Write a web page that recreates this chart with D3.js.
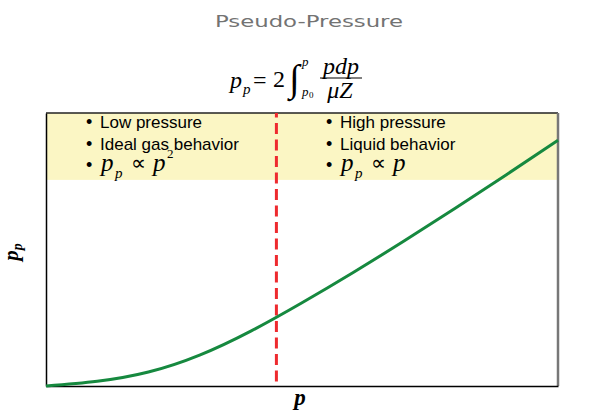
<!DOCTYPE html>
<html>
<head>
<meta charset="utf-8">
<script src="https://cdn.jsdelivr.net/npm/d3@7"></script>
<style>
  html, body { margin: 0; padding: 0; background: #fff; }
  svg { display: block; }
</style>
</head>
<body>
<script>
// Pseudo-pressure curve: p_p versus p (arbitrary units)
const pressure       = [0, 10, 20, 30, 40, 50, 60, 70, 80, 90, 100];
const pseudoPressure = [0, 1.7, 5.1, 11.3, 20.1, 30.5, 41.6, 53.2, 65.2, 77.5, 90.0];
// boundary between low- and high-pressure regimes
const dividerPressure = [45];
// shaded annotation band (p_p range)
const bandRange = [75.5, 100];
const leftNotes  = ["Low pressure", "Ideal gas behavior"];
const rightNotes = ["High pressure", "Liquid behavior"];

const W = 600, H = 415;
const svg = d3.select("body").append("svg").attr("width", W).attr("height", H);

const x = d3.scaleLinear().domain([0, 100]).range([46, 558]);
const y = d3.scaleLinear().domain([0, 100]).range([386, 113]);

const serif = "'Liberation Serif', 'Times New Roman', serif";
const sans  = "'Liberation Sans', Arial, sans-serif";

// title
svg.append("text")
  .attr("x", 309).attr("y", 27)
  .attr("text-anchor", "middle")
  .attr("font-family", "'DejaVu Sans', sans-serif")
  .attr("font-size", 16)
  .attr("fill", "#737373")
  .attr("textLength", 188)
  .attr("lengthAdjust", "spacingAndGlyphs")
  .text("Pseudo-Pressure");

// defining integral
const eq = svg.append("g").attr("font-family", serif).attr("fill", "#000");
eq.append("text").attr("x", 230).attr("y", 88).attr("font-size", 24).attr("font-style", "italic").text("p");
eq.append("text").attr("x", 243).attr("y", 94).attr("font-size", 15).attr("font-style", "italic").text("p");
eq.append("text").attr("x", 253).attr("y", 88).attr("font-size", 24).text("=");
eq.append("text").attr("x", 273).attr("y", 87).attr("font-size", 24).text("2");
eq.append("text").attr("x", 289).attr("y", 91).attr("font-size", 38).text("\u222B");
eq.append("text").attr("x", 302).attr("y", 66).attr("font-size", 13).attr("font-style", "italic").text("p");
eq.append("text").attr("x", 302).attr("y", 96).attr("font-size", 13).attr("font-style", "italic").text("p");
eq.append("text").attr("x", 309).attr("y", 98).attr("font-size", 9).text("0");
eq.append("text").attr("x", 341).attr("y", 74).attr("text-anchor", "middle").attr("font-size", 24).attr("font-style", "italic").text("pdp");
eq.append("line").attr("x1", 320).attr("x2", 362).attr("y1", 78).attr("y2", 78).attr("stroke", "#000").attr("stroke-width", 1.2);
eq.append("text").attr("x", 340).attr("y", 98).attr("text-anchor", "middle").attr("font-size", 24).attr("font-style", "italic").text("\u03BCZ");

// annotation band
svg.append("rect")
  .attr("x", x(0)).attr("width", x(100) - x(0))
  .attr("y", y(bandRange[1])).attr("height", y(bandRange[0]) - y(bandRange[1]))
  .attr("fill", "#fbf6c4");

// band notes
function notes(x0, lines, exponent) {
  const g = svg.append("g").attr("fill", "#000");
  lines.forEach((t, i) => {
    g.append("text").attr("x", x0 - 14).attr("y", 128 + i * 21.5)
      .attr("font-family", sans).attr("font-size", 18).text("\u2022");
    g.append("text").attr("x", x0).attr("y", 128 + i * 21.5)
      .attr("font-family", sans).attr("font-size", 17).text(t);
  });
  g.append("text").attr("x", x0 - 14).attr("y", 171)
    .attr("font-family", sans).attr("font-size", 18).text("\u2022");
  const m = g.append("g").attr("font-family", serif);
  m.append("text").attr("x", x0 + 1).attr("y", 171).attr("font-size", 25).attr("font-style", "italic").text("p");
  m.append("text").attr("x", x0 + 15).attr("y", 178).attr("font-size", 15).attr("font-style", "italic").text("p");
  m.append("text").attr("x", x0 + 31).attr("y", 170).attr("font-size", 21).attr("font-weight", 300).text("\u221D");
  m.append("text").attr("x", x0 + 53).attr("y", 171).attr("font-size", 25).attr("font-style", "italic").text("p");
  if (exponent) {
    m.append("text").attr("x", x0 + 67).attr("y", 158).attr("font-size", 13).text(exponent);
  }
}
notes(100, leftNotes, "2");
notes(340, rightNotes, null);

// frame
svg.append("line").attr("x1", x(0)).attr("x2", x(100)).attr("y1", y(100)).attr("y2", y(100))
  .attr("stroke", "#222").attr("stroke-width", 1.5);
svg.append("line").attr("x1", x(100)).attr("x2", x(100)).attr("y1", y(100)).attr("y2", y(0))
  .attr("stroke", "#777").attr("stroke-width", 2.5);
svg.append("g").attr("transform", `translate(0,${y(0)})`)
  .call(d3.axisBottom(x).tickValues([]).tickSizeOuter(0))
  .call(g => g.select(".domain").attr("stroke", "#000").attr("stroke-width", 1.5));
svg.append("g").attr("transform", `translate(${x(0)},0)`)
  .call(d3.axisLeft(y).tickValues([]).tickSizeOuter(0))
  .call(g => g.select(".domain").attr("stroke", "#000").attr("stroke-width", 1.5));

// regime divider
svg.selectAll(".divider").data(dividerPressure).enter().append("line")
  .attr("class", "divider")
  .attr("x1", d => x(d)).attr("x2", d => x(d))
  .attr("y1", y(100)).attr("y2", y(0))
  .attr("stroke", "#ee2a2e").attr("stroke-width", 3)
  .attr("stroke-dasharray", "11,5.5")
  .attr("stroke-dashoffset", 6.5);

// pseudo-pressure curve
const pts = pressure.map((p, i) => [p, pseudoPressure[i]]);
svg.append("path").datum(pts)
  .attr("fill", "none")
  .attr("stroke", "#16893f")
  .attr("stroke-width", 3)
  .attr("d", d3.line().x(d => x(d[0])).y(d => y(d[1])).curve(d3.curveNatural));

// axis labels
svg.append("text")
  .attr("x", 300).attr("y", 405).attr("text-anchor", "middle")
  .attr("font-family", serif).attr("font-size", 23)
  .attr("font-weight", "bold").attr("font-style", "italic")
  .text("p");
const yl = svg.append("text")
  .attr("transform", "translate(18,252) rotate(-90)")
  .attr("text-anchor", "middle")
  .attr("font-family", serif).attr("font-size", 21)
  .attr("font-weight", "bold").attr("font-style", "italic");
yl.append("tspan").text("p");
yl.append("tspan").attr("dy", 4).attr("font-size", 14).text("p");
</script>
</body>
</html>
